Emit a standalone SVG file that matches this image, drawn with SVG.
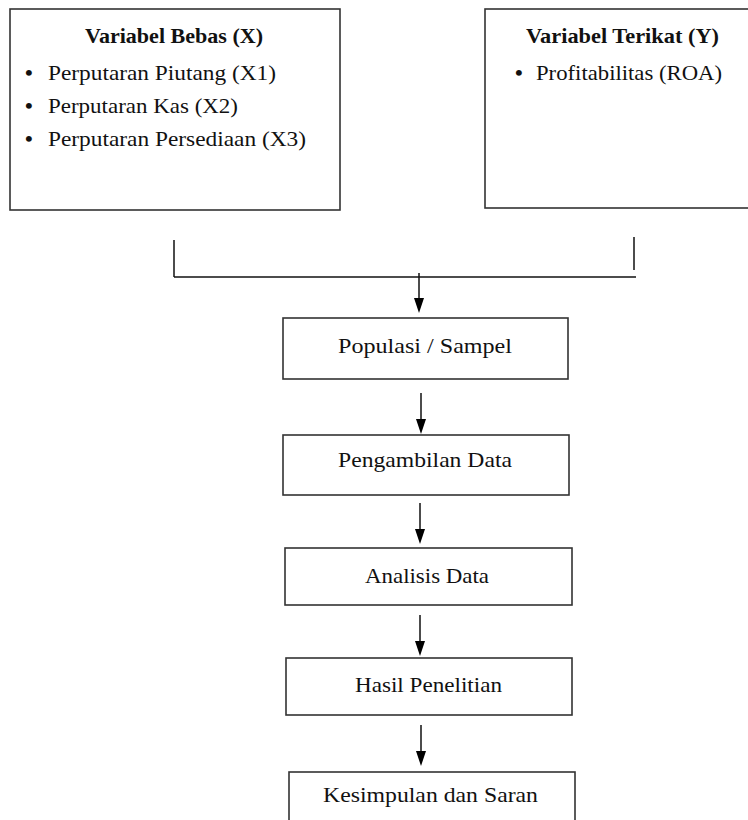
<svg xmlns="http://www.w3.org/2000/svg" width="748" height="820" viewBox="0 0 748 820">
<defs>
<style>
.box{fill:#fff;stroke:#333;stroke-width:1.6}
.t{font-family:"Liberation Serif","DejaVu Serif",serif;font-size:22px;fill:#111}
.b{font-weight:bold}
.c{text-anchor:middle}
.d{font-size:22px;font-weight:bold}
.ln{stroke:#111;stroke-width:1.5;fill:none}
.ah{fill:#000}
</style>
</defs>
<rect width="748" height="820" fill="#fff"/>
<g id="varX">
<rect class="box" x="10" y="9" width="330" height="201"/>
<text class="t b c" x="174" y="43" textLength="178" lengthAdjust="spacingAndGlyphs">Variabel Bebas (X)</text>
<text class="t d" x="25" y="80">•</text><text class="t" x="48" y="80" textLength="228" lengthAdjust="spacingAndGlyphs">Perputaran Piutang (X1)</text>
<text class="t d" x="25" y="113">•</text><text class="t" x="48" y="113" textLength="190" lengthAdjust="spacingAndGlyphs">Perputaran Kas (X2)</text>
<text class="t d" x="25" y="146">•</text><text class="t" x="48" y="146" textLength="258" lengthAdjust="spacingAndGlyphs">Perputaran Persediaan (X3)</text>
</g>
<g id="varY">
<rect class="box" x="485" y="9" width="275" height="199"/>
<text class="t b c" x="622.5" y="43" textLength="193" lengthAdjust="spacingAndGlyphs">Variabel Terikat (Y)</text>
<text class="t d" x="515" y="80">•</text><text class="t" x="536" y="80" textLength="186" lengthAdjust="spacingAndGlyphs">Profitabilitas (ROA)</text>
</g>
<g id="connectors">
<line class="ln" x1="174" y1="240" x2="174" y2="277"/>
<line class="ln" x1="634" y1="237" x2="634" y2="270"/>
<line class="ln" x1="174" y1="277" x2="636" y2="277"/>
<line class="ln" x1="419" y1="273" x2="419" y2="298"/>
<path class="ah" d="M414,298 L424,298 L419,313 Z"/>
<line class="ln" x1="421" y1="393" x2="421" y2="419"/>
<path class="ah" d="M416,419 L426,419 L421,434 Z"/>
<line class="ln" x1="420" y1="503" x2="420" y2="529"/>
<path class="ah" d="M415,529 L425,529 L420,544 Z"/>
<line class="ln" x1="420" y1="615" x2="420" y2="641"/>
<path class="ah" d="M415,641 L425,641 L420,656 Z"/>
<line class="ln" x1="421" y1="725" x2="421" y2="751"/>
<path class="ah" d="M416,751 L426,751 L421,766 Z"/>
</g>
<g id="populasi">
<rect class="box" x="283" y="318" width="285" height="61"/>
<text class="t c" x="425" y="353" textLength="174" lengthAdjust="spacingAndGlyphs">Populasi / Sampel</text>
</g>
<g id="pengambilan">
<rect class="box" x="283" y="435" width="286" height="60"/>
<text class="t c" x="425" y="467" textLength="174" lengthAdjust="spacingAndGlyphs">Pengambilan Data</text>
</g>
<g id="analisis">
<rect class="box" x="285" y="548" width="287" height="57"/>
<text class="t c" x="427" y="583" textLength="124" lengthAdjust="spacingAndGlyphs">Analisis Data</text>
</g>
<g id="hasil">
<rect class="box" x="286" y="658" width="286" height="57"/>
<text class="t c" x="428.5" y="692" textLength="147" lengthAdjust="spacingAndGlyphs">Hasil Penelitian</text>
</g>
<g id="kesimpulan">
<rect class="box" x="289" y="772" width="286" height="60"/>
<text class="t c" x="430.5" y="802" textLength="215" lengthAdjust="spacingAndGlyphs">Kesimpulan dan Saran</text>
</g>
</svg>
